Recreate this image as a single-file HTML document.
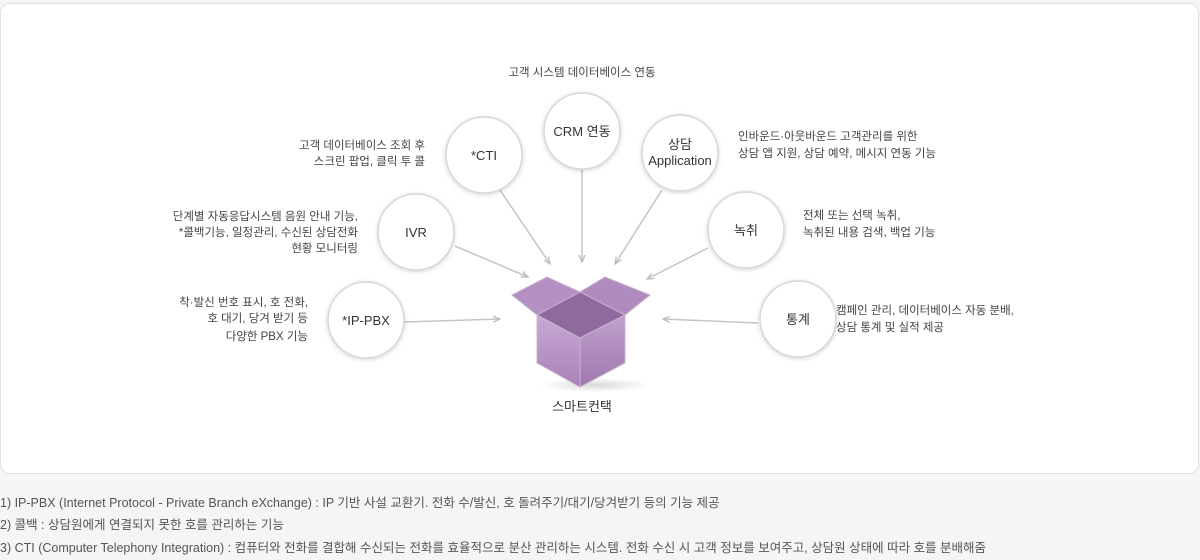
<!DOCTYPE html>
<html><head><meta charset="utf-8"><style>
html,body{margin:0;padding:0;background:#f5f5f5;width:1200px;height:560px;overflow:hidden;font-family:"Liberation Sans","Noto Sans CJK KR",sans-serif}
.panel{position:absolute;left:0;top:3px;width:1197px;height:469px;background:#fff;border:1px solid #e2e2e2;border-radius:10px}
svg{position:absolute;left:0;top:0}
.fn{position:absolute;left:0;font-size:12.5px;color:#555;white-space:nowrap;letter-spacing:0}
</style></head><body>
<div class="panel"></div>
<svg width="1200" height="560" font-family="Liberation Sans, Noto Sans CJK KR, sans-serif">
<defs>
<filter id="sh" x="-30%" y="-30%" width="160%" height="160%"><feDropShadow dx="0" dy="1" stdDeviation="2" flood-color="#000" flood-opacity="0.18"/></filter>
<marker id="ar" markerWidth="8" markerHeight="8" refX="7" refY="4" orient="auto" markerUnits="userSpaceOnUse"><path d="M0,1 L7,4 L0,7" fill="none" stroke="#bbb" stroke-width="1.3"/></marker>
<linearGradient id="lf" x1="0" y1="0" x2="0" y2="1"><stop offset="0" stop-color="#c9a9d4"/><stop offset="1" stop-color="#a981b8"/></linearGradient>
<linearGradient id="rf" x1="0" y1="0" x2="0" y2="1"><stop offset="0" stop-color="#c0a0cc"/><stop offset="1" stop-color="#9f78ae"/></linearGradient>
<radialGradient id="bs"><stop offset="0" stop-color="#000" stop-opacity="0.15"/><stop offset="1" stop-color="#000" stop-opacity="0"/></radialGradient>
</defs>
<g stroke="#c4c4c4" stroke-width="1.5" marker-end="url(#ar)">
<line x1="500" y1="190" x2="550" y2="264"/>
<line x1="582" y1="170" x2="582" y2="262"/>
<line x1="662" y1="190" x2="615" y2="264"/>
<line x1="455" y1="246" x2="528" y2="277"/>
<line x1="708" y1="248" x2="647" y2="279"/>
<line x1="405" y1="322" x2="500" y2="319"/>
<line x1="758" y1="323" x2="663" y2="319"/>
</g>
<ellipse cx="595" cy="385" rx="55" ry="7" fill="url(#bs)"/>
<polygon points="537,315 580,292 625,315 580,338" fill="#8f6a9e"/>
<polygon points="512,295 547,277 580,292 537,315" fill="#b38fc2" stroke="#c7b0d0" stroke-width="1"/>
<polygon points="580,292 605,277 650,295 625,315" fill="#b08bbf" stroke="#c7b0d0" stroke-width="1"/>
<polygon points="537,315 580,338 580,387 537,363" fill="url(#lf)" stroke="#c8b6cf" stroke-width="1"/>
<polygon points="580,338 625,315 625,363 580,387" fill="url(#rf)" stroke="#c8b6cf" stroke-width="1"/>
<text x="582" y="411" font-size="13" fill="#333" text-anchor="middle">스마트컨택</text>
<g fill="#fff" stroke="#d6d6d6" stroke-width="1.5" filter="url(#sh)">
<circle cx="484" cy="155" r="38"/>
<circle cx="582" cy="131" r="38"/>
<circle cx="680" cy="153" r="38"/>
<circle cx="416" cy="232" r="38"/>
<circle cx="746" cy="230" r="38"/>
<circle cx="366" cy="320" r="38"/>
<circle cx="798" cy="319" r="38"/>
</g>
<g font-size="13" fill="#333" text-anchor="middle">
<text x="484" y="160">*CTI</text>
<text x="582" y="136">CRM 연동</text>
<text x="680" y="149">상담</text>
<text x="680" y="165">Application</text>
<text x="416" y="237">IVR</text>
<text x="746" y="235">녹취</text>
<text x="366" y="325">*IP-PBX</text>
<text x="798" y="324">통계</text>
</g>
<g font-size="11.5" fill="#444">
<text x="582" y="76" text-anchor="middle">고객 시스템 데이터베이스 연동</text>
<g text-anchor="end">
<text x="425" y="149">고객 데이터베이스 조회 후</text>
<text x="425" y="165">스크린 팝업, 클릭 투 콜</text>
<text x="358" y="220">단계별 자동응답시스템 음원 안내 기능,</text>
<text x="358" y="236">*콜백기능, 일정관리, 수신된 상담전화</text>
<text x="358" y="252">현황 모니터링</text>
<text x="308" y="306">착·발신 번호 표시, 호 전화,</text>
<text x="308" y="322">호 대기, 당겨 받기 등</text>
<text x="308" y="340">다양한 PBX 기능</text>
</g>
<text x="738" y="140">인바운드·아웃바운드 고객관리를 위한</text>
<text x="738" y="157">상담 앱 지원, 상담 예약, 메시지 연동 기능</text>
<text x="803" y="219">전체 또는 선택 녹취,</text>
<text x="803" y="236">녹취된 내용 검색, 백업 기능</text>
<text x="836" y="314">캠페인 관리, 데이터베이스 자동 분배,</text>
<text x="836" y="331">상담 통계 및 실적 제공</text>
</g>
</svg>
<div class="fn" style="top:492px">1) IP-PBX (Internet Protocol - Private Branch eXchange) : IP 기반 사설 교환기. 전화 수/발신, 호 돌려주기/대기/당겨받기 등의 기능 제공</div>
<div class="fn" style="top:514px">2) 콜백 : 상담원에게 연결되지 못한 호를 관리하는 기능</div>
<div class="fn" style="top:537px">3) CTI (Computer Telephony Integration) : 컴퓨터와 전화를 결합해 수신되는 전화를 효율적으로 분산 관리하는 시스템. 전화 수신 시 고객 정보를 보여주고, 상담원 상태에 따라 호를 분배해줌</div>
</body></html>
